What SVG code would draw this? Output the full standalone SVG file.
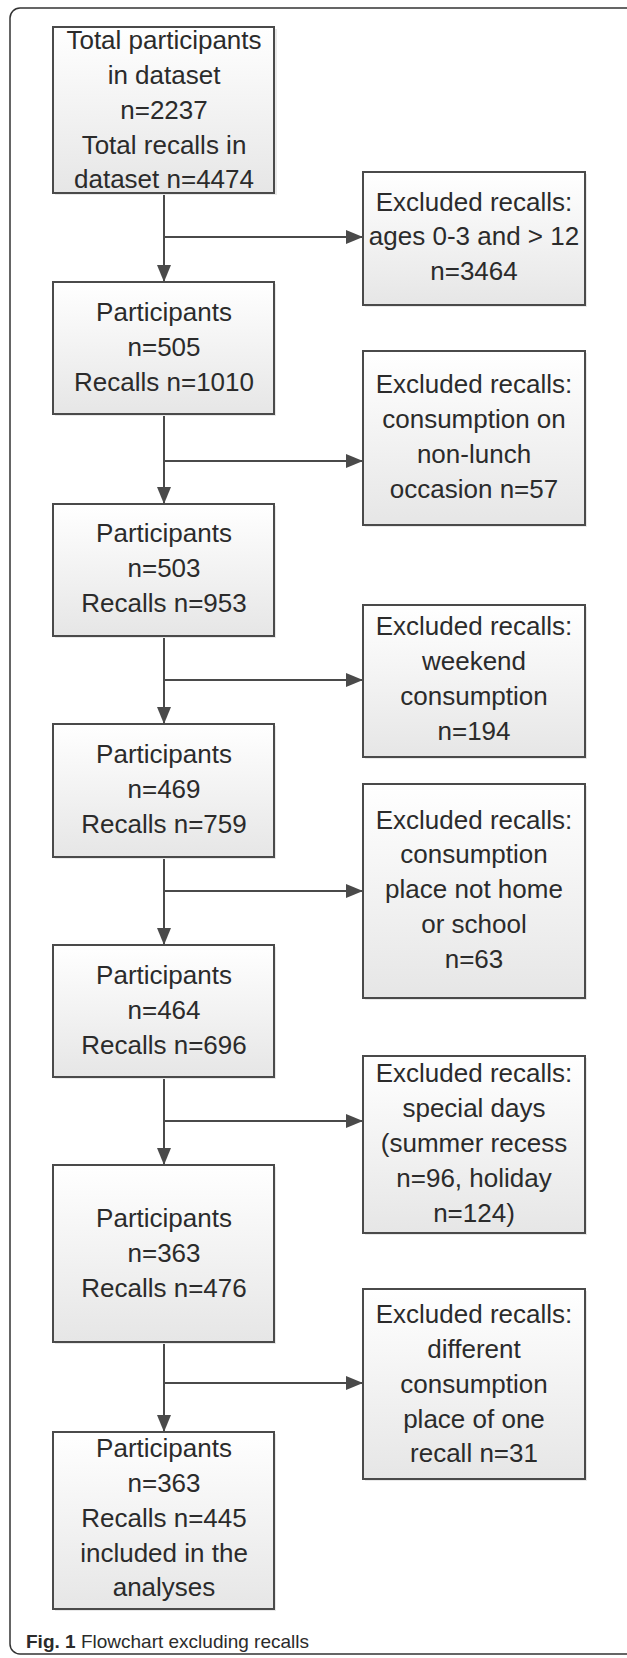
<svg xmlns="http://www.w3.org/2000/svg" width="627" height="1658" viewBox="0 0 627 1658">
<style>
.box{fill:url(#g);stroke:#4a4a4a;stroke-width:2}
.sh{fill:#e9e9e9}
.t{font-family:"Liberation Sans",Arial,sans-serif;font-size:26px;fill:#2b2b2b;text-anchor:middle}
.c{stroke:#4a4a4a;stroke-width:2;fill:none}
.cap{font-family:"Liberation Sans",Arial,sans-serif;font-size:19px;fill:#2b2b2b}
</style>
<defs>
<linearGradient id="g" x1="0" y1="0" x2="0" y2="1">
<stop offset="0" stop-color="#ffffff"/>
<stop offset="1" stop-color="#e6e6e6"/>
</linearGradient>
<marker id="ah" markerUnits="userSpaceOnUse" markerWidth="18" markerHeight="14" refX="17" refY="7" orient="auto">
<path d="M0,0 L17,7 L0,14 z" fill="#4a4a4a"/>
</marker>
</defs>
<rect x="10" y="8" width="630" height="1646" rx="10" fill="none" stroke="#333" stroke-width="1.5"/>
<g id="connectors">
<line class="c" x1="164" y1="193" x2="164" y2="282" marker-end="url(#ah)"/>
<line class="c" x1="164" y1="237" x2="363" y2="237" marker-end="url(#ah)"/>
<line class="c" x1="164" y1="414" x2="164" y2="504" marker-end="url(#ah)"/>
<line class="c" x1="164" y1="461" x2="363" y2="461" marker-end="url(#ah)"/>
<line class="c" x1="164" y1="636" x2="164" y2="724" marker-end="url(#ah)"/>
<line class="c" x1="164" y1="680" x2="363" y2="680" marker-end="url(#ah)"/>
<line class="c" x1="164" y1="857" x2="164" y2="945" marker-end="url(#ah)"/>
<line class="c" x1="164" y1="891" x2="363" y2="891" marker-end="url(#ah)"/>
<line class="c" x1="164" y1="1077" x2="164" y2="1165" marker-end="url(#ah)"/>
<line class="c" x1="164" y1="1121" x2="363" y2="1121" marker-end="url(#ah)"/>
<line class="c" x1="164" y1="1342" x2="164" y2="1432" marker-end="url(#ah)"/>
<line class="c" x1="164" y1="1383" x2="363" y2="1383" marker-end="url(#ah)"/>
</g>
<g id="n1">
<rect class="sh" x="55" y="29" width="222" height="166"/>
<rect class="box" x="53" y="27" width="221" height="166"/>
<text class="t" x="164" y="49">Total participants</text>
<text class="t" x="164" y="84">in dataset</text>
<text class="t" x="164" y="119">n=2237</text>
<text class="t" x="164" y="154">Total recalls in</text>
<text class="t" x="164" y="188">dataset n=4474</text>
</g>
<g id="e1">
<rect class="sh" x="365" y="174" width="222" height="133"/>
<rect class="box" x="363" y="172" width="222" height="133"/>
<text class="t" x="474" y="211">Excluded recalls:</text>
<text class="t" x="474" y="245">ages 0-3 and &gt; 12</text>
<text class="t" x="474" y="280">n=3464</text>
</g>
<g id="n2">
<rect class="sh" x="55" y="284" width="221" height="132"/>
<rect class="box" x="53" y="282" width="221" height="132"/>
<text class="t" x="164" y="321">Participants</text>
<text class="t" x="164" y="356">n=505</text>
<text class="t" x="164" y="391">Recalls n=1010</text>
</g>
<g id="e2">
<rect class="sh" x="365" y="353" width="222" height="174"/>
<rect class="box" x="363" y="351" width="222" height="174"/>
<text class="t" x="474" y="393">Excluded recalls:</text>
<text class="t" x="474" y="428">consumption on</text>
<text class="t" x="474" y="463">non-lunch</text>
<text class="t" x="474" y="498">occasion n=57</text>
</g>
<g id="n3">
<rect class="sh" x="55" y="506" width="221" height="132"/>
<rect class="box" x="53" y="504" width="221" height="132"/>
<text class="t" x="164" y="542">Participants</text>
<text class="t" x="164" y="577">n=503</text>
<text class="t" x="164" y="612">Recalls n=953</text>
</g>
<g id="e3">
<rect class="sh" x="365" y="607" width="222" height="152"/>
<rect class="box" x="363" y="605" width="222" height="152"/>
<text class="t" x="474" y="635">Excluded recalls:</text>
<text class="t" x="474" y="670">weekend</text>
<text class="t" x="474" y="705">consumption</text>
<text class="t" x="474" y="740">n=194</text>
</g>
<g id="n4">
<rect class="sh" x="55" y="726" width="221" height="133"/>
<rect class="box" x="53" y="724" width="221" height="133"/>
<text class="t" x="164" y="763">Participants</text>
<text class="t" x="164" y="798">n=469</text>
<text class="t" x="164" y="833">Recalls n=759</text>
</g>
<g id="e4">
<rect class="sh" x="365" y="786" width="222" height="214"/>
<rect class="box" x="363" y="784" width="222" height="214"/>
<text class="t" x="474" y="829">Excluded recalls:</text>
<text class="t" x="474" y="863">consumption</text>
<text class="t" x="474" y="898">place not home</text>
<text class="t" x="474" y="933">or school</text>
<text class="t" x="474" y="968">n=63</text>
</g>
<g id="n5">
<rect class="sh" x="55" y="947" width="221" height="132"/>
<rect class="box" x="53" y="945" width="221" height="132"/>
<text class="t" x="164" y="984">Participants</text>
<text class="t" x="164" y="1019">n=464</text>
<text class="t" x="164" y="1054">Recalls n=696</text>
</g>
<g id="e5">
<rect class="sh" x="365" y="1058" width="222" height="177"/>
<rect class="box" x="363" y="1056" width="222" height="177"/>
<text class="t" x="474" y="1082">Excluded recalls:</text>
<text class="t" x="474" y="1117">special days</text>
<text class="t" x="474" y="1152">(summer recess</text>
<text class="t" x="474" y="1187">n=96, holiday</text>
<text class="t" x="474" y="1222">n=124)</text>
</g>
<g id="n6">
<rect class="sh" x="55" y="1167" width="221" height="177"/>
<rect class="box" x="53" y="1165" width="221" height="177"/>
<text class="t" x="164" y="1227">Participants</text>
<text class="t" x="164" y="1262">n=363</text>
<text class="t" x="164" y="1297">Recalls n=476</text>
</g>
<g id="e6">
<rect class="sh" x="365" y="1291" width="222" height="190"/>
<rect class="box" x="363" y="1289" width="222" height="190"/>
<text class="t" x="474" y="1323">Excluded recalls:</text>
<text class="t" x="474" y="1358">different</text>
<text class="t" x="474" y="1393">consumption</text>
<text class="t" x="474" y="1428">place of one</text>
<text class="t" x="474" y="1462">recall n=31</text>
</g>
<g id="n7">
<rect class="sh" x="55" y="1434" width="221" height="177"/>
<rect class="box" x="53" y="1432" width="221" height="177"/>
<text class="t" x="164" y="1457">Participants</text>
<text class="t" x="164" y="1492">n=363</text>
<text class="t" x="164" y="1527">Recalls n=445</text>
<text class="t" x="164" y="1562">included in the</text>
<text class="t" x="164" y="1596">analyses</text>
</g>
<text class="cap" x="26" y="1648"><tspan font-weight="bold">Fig. 1</tspan> Flowchart excluding recalls</text>
</svg>
